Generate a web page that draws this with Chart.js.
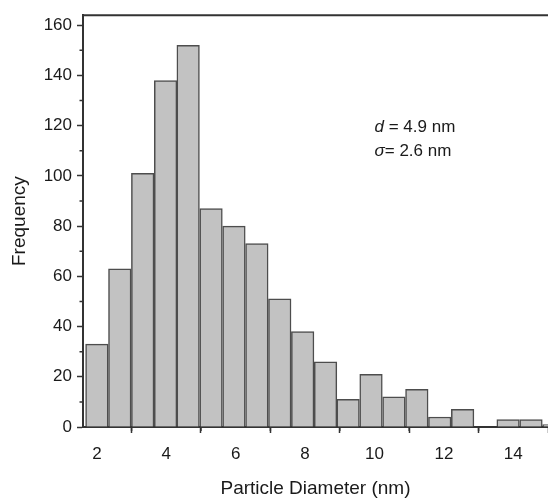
<!DOCTYPE html>
<html lang="en">
<head>
  <meta charset="UTF-8" />
  <title>Particle Diameter Histogram</title>
  <style>
    body, html { margin: 0; padding: 0; background: #fff; }
    #wrap { width: 548px; height: 498px; position: relative; }
  </style>
  <script src="https://cdn.jsdelivr.net/npm/chart.js"></script>
</head>
<body>
<div id="wrap"><canvas id="hist"></canvas></div>
<script>
  // histogram bins (centre of each bin, nm) and counts
  const binCenters = [2.00, 2.66, 3.32, 3.98, 4.63, 5.29, 5.95, 6.61, 7.27, 7.93,
                      8.59, 9.24, 9.90, 10.56, 11.22, 11.88, 12.54, 13.19, 13.85, 14.51, 15.17];
  const frequencies = [33, 63, 101, 138, 152, 87, 80, 73, 51, 38,
                       26, 11, 21, 12, 15, 4, 7, 0, 3, 3, 1];

  const xTicks = [2, 4, 6, 8, 10, 12, 14];
  const xMinorTicks = [3, 5, 7, 9, 11, 13];
  const yTicks = [0, 20, 40, 60, 80, 100, 120, 140, 160];
  const yMinorTicks = [10, 30, 50, 70, 90, 110, 130, 150];

  const statLines = [
    { sym: 'd', rest: ' = 4.9 nm', x: 10, y: 117.5 },
    { sym: 'σ', rest: '= 2.6 nm', x: 10, y: 108 }
  ];

  const FONT = "'Liberation Sans', Arial, sans-serif";
  const AXIS = '#333';
  const TEXT = '#1a1a1a';

  // frame top line, minor ticks, and the d / sigma note
  const extras = {
    id: 'extras',
    afterDraw(chart) {
      const { ctx, chartArea: a, scales: { x, y } } = chart;
      ctx.save();
      ctx.strokeStyle = AXIS;
      ctx.lineWidth = 2;
      ctx.beginPath();
      ctx.moveTo(a.left - 1, a.top);
      ctx.lineTo(a.right + 2, a.top);
      ctx.stroke();

      ctx.lineWidth = 1.5;
      ctx.beginPath();
      xMinorTicks.forEach(v => {
        const px = x.getPixelForValue(v);
        ctx.moveTo(px, a.bottom);
        ctx.lineTo(px, a.bottom + 4);
      });
      yMinorTicks.forEach(v => {
        const py = y.getPixelForValue(v);
        ctx.moveTo(a.left, py);
        ctx.lineTo(a.left - 3.5, py);
      });
      ctx.stroke();

      ctx.fillStyle = TEXT;
      ctx.textBaseline = 'alphabetic';
      statLines.forEach(l => {
        const px = x.getPixelForValue(l.x);
        const py = y.getPixelForValue(l.y);
        ctx.font = 'italic 17px ' + FONT;
        ctx.fillText(l.sym, px, py);
        const w = ctx.measureText(l.sym).width;
        ctx.font = '17px ' + FONT;
        ctx.fillText(l.rest, px + w, py);
      });
      ctx.restore();
    }
  };

  new Chart(document.getElementById('hist'), {
    type: 'bar',
    data: {
      datasets: [{
        data: binCenters.map((c, i) => ({ x: c, y: frequencies[i] })),
        backgroundColor: '#c2c2c2',
        borderColor: '#4d4d4d',
        borderWidth: 1.5,
        barPercentage: 1,
        categoryPercentage: 1
      }]
    },
    options: {
      responsive: true,
      maintainAspectRatio: false,
      animation: false,
      layout: { padding: { top: 15, right: 0, left: 0, bottom: 0 } },
      plugins: { legend: { display: false }, tooltip: { enabled: false } },
      scales: {
        x: {
          type: 'linear',
          min: 1.6,
          max: 15,
          offset: false,
          afterBuildTicks: s => { s.ticks = xTicks.map(v => ({ value: v })); },
          afterFit: s => { s.height = 71; },
          border: { color: AXIS, width: 2 },
          grid: { drawOnChartArea: false, tickLength: 6, tickColor: AXIS, tickWidth: 1.5 },
          ticks: { color: TEXT, padding: 11, maxRotation: 0, font: { family: FONT, size: 17 } },
          title: {
            display: true, text: 'Particle Diameter (nm)', color: TEXT,
            font: { family: FONT, size: 19, lineHeight: 1 }, padding: 0
          }
        },
        y: {
          min: 0,
          max: 164,
          afterBuildTicks: s => { s.ticks = yTicks.map(v => ({ value: v })); },
          afterFit: s => { s.width = 83; },
          border: { color: AXIS, width: 2 },
          grid: { drawOnChartArea: false, tickLength: 6, tickColor: AXIS, tickWidth: 1.5 },
          ticks: { color: TEXT, padding: 5, font: { family: FONT, size: 17 } },
          title: {
            display: true, text: 'Frequency', color: TEXT,
            font: { family: FONT, size: 19, lineHeight: 1 }, padding: { top: 10, bottom: 0 }
          }
        }
      }
    },
    plugins: [extras]
  });
</script>
</body>
</html>
